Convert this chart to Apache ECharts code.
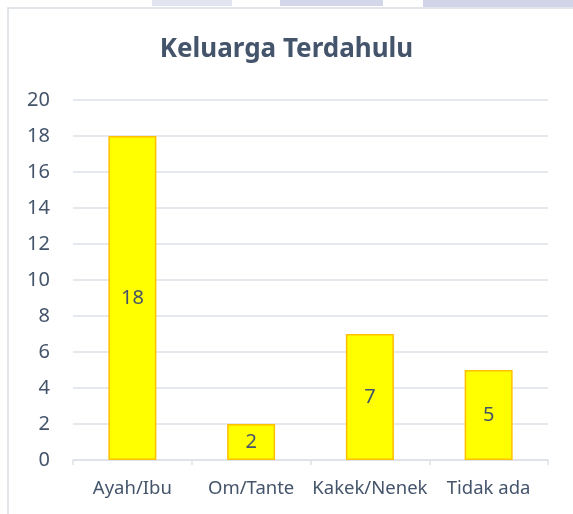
<!DOCTYPE html>
<html>
<head>
<meta charset="utf-8">
<script src="https://cdn.jsdelivr.net/npm/echarts@6/dist/echarts.min.js"></script>
<style>
  html, body { margin: 0; padding: 0; background: #fff; }
  #chart { width: 573px; height: 514px; }
</style>
</head>
<body>
<div id="chart"></div>
<script>
var categories = ['Ayah/Ibu', 'Om/Tante', 'Kakek/Nenek', 'Tidak ada'];
var values = [18, 2, 7, 5];
var yTicks = [0, 20, 2];   // min, max, step

var textColor = '#44546a';
var gridColor = '#dde1e7';

var chart = echarts.init(document.getElementById('chart'));

var option = {
    backgroundColor: '#fff',
    animation: false,
    title: {
        text: 'Keluarga Terdahulu',
        left: 'center',
        top: 32,
        textStyle: {
            color: textColor,
            fontFamily: 'Noto Sans',
            fontWeight: 'bold',
            fontSize: 26
        }
    },
    graphic: [
        // outer frame
        { type: 'rect', shape: { x: 8, y: 8, width: 600, height: 600 },
          style: { fill: 'none', stroke: '#d9dde3', lineWidth: 1.5 }, silent: true },
        // strip above frame
        { type: 'rect', shape: { x: 152, y: 0, width: 80, height: 6 }, style: { fill: '#e2e4f0' }, silent: true },
        { type: 'rect', shape: { x: 280, y: 0, width: 103, height: 6 }, style: { fill: '#d4d7ea' }, silent: true },
        { type: 'rect', shape: { x: 423, y: 0, width: 150, height: 7 }, style: { fill: '#d2d5e9' }, silent: true }
    ],
    grid: {
        left: 73,
        right: 25,
        top: 100,
        bottom: 54
    },
    xAxis: {
        type: 'category',
        data: categories,
        axisLine: { lineStyle: { color: gridColor, width: 1.5 } },
        axisTick: { show: true, length: 5, lineStyle: { color: gridColor, width: 1.5 } },
        axisLabel: {
            interval: 0,
            color: textColor,
            fontFamily: 'Noto Sans',
            fontSize: 18.5,
            margin: 19
        }
    },
    yAxis: {
        type: 'value',
        min: yTicks[0],
        max: yTicks[1],
        interval: yTicks[2],
        axisLine: { show: false },
        axisTick: { show: false },
        splitLine: { lineStyle: { color: gridColor, width: 1.5 } },
        axisLabel: {
            color: textColor,
            fontFamily: 'Noto Sans',
            fontSize: 20,
            margin: 23
        }
    },
    series: [{
        type: 'bar',
        data: values,
        barWidth: 48,
        itemStyle: {
            color: '#ffff00',
            borderColor: '#ffc000',
            borderWidth: 1.5
        },
        label: {
            show: true,
            position: 'inside',
            color: textColor,
            fontFamily: 'Noto Sans',
            fontSize: 20
        }
    }]
};

chart.setOption(option);
</script>
</body>
</html>
